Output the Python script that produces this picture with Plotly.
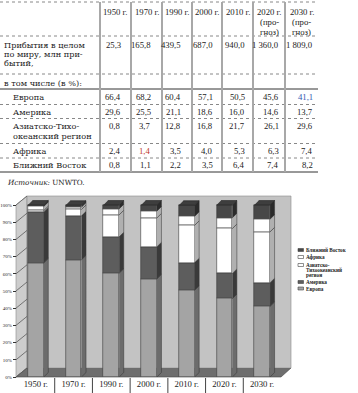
import plotly.graph_objects as go

W, H = 358, 393
SERIF = "Liberation Serif, DejaVu Serif, serif"
WIDE_SERIF = "DejaVu Serif, Liberation Serif, serif"

# ---------------- data ----------------
years = ["1950 г.", "1970 г.", "1990 г.", "2000 г.", "2010 г.", "2020 г.", "2030 г."]
header_labels = ["1950 г.", "1970 г.", "1990 г.", "2000 г.", "2010 г.",
                 "2020 г.<br>(про-<br>гноз)", "2030 г.<br>(про-<br>гноз)"]
arrivals = [25.3, 165.8, 439.5, 687.0, 940.0, 1360.0, 1809.0]
europe = [66.4, 68.2, 60.4, 57.1, 50.5, 45.6, 41.1]
america = [29.6, 25.5, 21.1, 18.6, 16.0, 14.6, 13.7]
asia_pacific = [0.8, 3.7, 12.8, 16.8, 21.7, 26.1, 29.6]
africa = [2.4, 1.4, 3.5, 4.0, 5.3, 6.3, 7.4]
middle_east = [0.8, 1.1, 2.2, 3.5, 6.4, 7.4, 8.2]

region_names = ["Европа", "Америка", "Азиатско-Тихоокеанский регион", "Африка", "Ближний Восток"]
table_row_labels = ["Европа", "Америка", "Азиатско-Тихо-<br>океанский регион", "Африка", "Ближний Восток"]
legend_labels = ["Ближний Восток", "Африка", "Азиатско-<br>Тихоокеанский<br>регион", "Америка", "Европа"]
arrivals_label = "Прибытия в целом<br>по миру, млн при-<br>бытий,"
subheader_label = "в том числе (в %):"
source_label = "<i>Источник:</i> UNWTO."
y_tick_values = [0, 10, 20, 30, 40, 50, 60, 70, 80, 90, 100]
y_tick_text = ["0%", "10%", "20%", "30%", "40%", "50%", "60%", "70%", "80%", "90%", "100%"]

series = [europe, america, asia_pacific, africa, middle_east]
highlight = {(0, 6): "#2f55b0", (3, 1): "#c0392b"}

# ---------------- styles ----------------
front_colors = ["#a4a4a4", "#5d5d5d", "#ffffff", "#ffffff", "#474747"]
side_colors = ["#6c6c6c", "#3a3a3a", "#b0b0b0", "#b0b0b0", "#2b2b2b"]
TEXT = "#222222"


def px(x):
    return x / W


def py(y):
    return 1 - y / H


def fmt(v):
    s = f"{v:,.1f}"
    return s.replace(",", "\u00a0").replace(".", ",")


fig = go.Figure()
ann = []
shapes = []


def add_text(text, x, y, anchor, size, lh, color=TEXT, family=SERIF):
    for k, line in enumerate(text.split("<br>")):
        ann.append(dict(x=px(x), y=py(y + k * lh), xref="paper", yref="paper", text=line,
                        showarrow=False, xanchor=anchor, yanchor="middle",
                        font=dict(size=size, color=color, family=family)))


# ---------------- table ----------------
col_edges = [100, 131, 162, 192, 222, 253, 285, 318]
val_right = [123, 153, 183, 215, 247, 281, 315]
row_y = [97, 111.5, 125.5, 151, 165]
FS = 8.7
LFS = 8.2
LH = 10

h_lines = [(2, "dot"), (36, "dot"), (74, "dot"), (89, "solid"), (104.5, "dot"),
           (118.5, "dot"), (143.5, "dot"), (158, "dot"), (172, "solid")]
for yy, st in h_lines:
    shapes.append(dict(type="line", xref="paper", yref="paper", x0=px(0), x1=px(col_edges[-1]),
                       y0=py(yy), y1=py(yy),
                       line=dict(color="#333" if st == "solid" else "#888", width=1, dash=st)))
for xx in col_edges[:-1]:
    shapes.append(dict(type="line", xref="paper", yref="paper", x0=px(xx), x1=px(xx),
                       y0=py(2), y1=py(172), line=dict(color="#a8a8a8", width=2)))

for j, lab in enumerate(header_labels):
    add_text(lab, (col_edges[j] + col_edges[j + 1]) / 2, 12, "center", FS, LH)

add_text(arrivals_label, 2, 45, "left", LFS, 9, family=WIDE_SERIF)
for j, v in enumerate(arrivals):
    add_text(fmt(v), val_right[j], 45, "right", FS, LH)
add_text(subheader_label, 2, 83, "left", LFS, LH, family=WIDE_SERIF)

for r, lab in enumerate(table_row_labels):
    add_text(lab, 11, row_y[r], "left", LFS, LH, family=WIDE_SERIF)
    for j, v in enumerate(series[r]):
        add_text(fmt(v), val_right[j], row_y[r], "right", FS, LH, highlight.get((r, j), TEXT))

add_text(source_label, 5, 182, "left", 7.2, LH, family=WIDE_SERIF)

# ---------------- chart geometry ----------------
FX0, FX1 = 17, 281          # front plane
FY0, FSC = 377, 1.72        # 0% position, px per %
DXP, DYP = 10, 9            # depth offset of back wall
Y2_MAX = 104
BX0, BX1 = FX0 + DXP, FX1 + DXP
BY0, BY100 = FY0 - DYP, FY0 - DYP - 100 * FSC

# side wall, floor, back wall
def path(pts):
    return "M " + " L ".join(f"{px(a):.5f},{py(b):.5f}" for a, b in pts) + " Z"

shapes.append(dict(type="path", xref="paper", yref="paper", layer="below",
                   path=path([(FX0 - 1, FY0 - 100 * FSC), (BX0, BY100), (BX0, BY0), (FX0 - 1, FY0)]),
                   fillcolor="#cdcdcd", line=dict(color="#8a8a8a", width=0.6)))
shapes.append(dict(type="path", xref="paper", yref="paper", layer="below",
                   path=path([(FX0 - 1, FY0), (FX1, FY0), (BX1, BY0), (BX0, BY0)]),
                   fillcolor="#6e6e6e", line=dict(color="#444", width=0.6)))
shapes.append(dict(type="rect", xref="paper", yref="paper", layer="below",
                   x0=px(BX0), x1=px(BX1), y0=py(BY0), y1=py(BY100),
                   fillcolor="#c3c3c3", line=dict(color="#8a8a8a", width=0.6)))
for v in y_tick_values:
    shapes.append(dict(type="line", xref="paper", yref="paper", layer="below",
                       x0=px(FX0 - 1), y0=py(FY0 - v * FSC), x1=px(BX0), y1=py(BY0 - v * FSC),
                       line=dict(color="#5a5a5a", width=0.8)))

# category separators under the chart
for i in range(len(years) - 1):
    shapes.append(dict(type="line", xref="x2", yref="paper", x0=i + 0.5, x1=i + 0.5,
                       y0=py(FY0 + 1), y1=py(H), line=dict(color="#444", width=1)))

# ---------------- bars ----------------
idx = list(range(len(years)))
BW = 0.42
DX, DY = 0.12, 2.6
base = [0.0] * len(years)
for k, vals in enumerate(series):
    fig.add_trace(go.Bar(x=idx, y=vals, base=base[:], width=BW, name=region_names[k],
                         marker=dict(color=front_colors[k], line=dict(color="#3a3a3a", width=0.6)),
                         xaxis="x2", yaxis="y2", showlegend=False))
    sx, sy = [], []
    for i in idx:
        b0, b1 = base[i], base[i] + vals[i]
        xr = i + BW / 2
        sx += [xr, xr + DX, xr + DX, xr, None]
        sy += [b0, b0 + DY, b1 + DY, b1, None]
    fig.add_trace(go.Scatter(x=sx, y=sy, mode="lines", fill="toself", fillcolor=side_colors[k],
                             line=dict(color="#333", width=0.5), xaxis="x2", yaxis="y2",
                             showlegend=False, hoverinfo="skip"))
    base = [base[i] + vals[i] for i in idx]

# top caps
cx, cy = [], []
for i in idx:
    top = base[i]
    cx += [i - BW / 2, i + BW / 2, i + BW / 2 + DX, i - BW / 2 + DX, None]
    cy += [top, top, top + DY, top + DY, None]
fig.add_trace(go.Scatter(x=cx, y=cy, mode="lines", fill="toself", fillcolor="#3e3e3e",
                         line=dict(color="#222", width=0.6), xaxis="x2", yaxis="y2",
                         showlegend=False, hoverinfo="skip"))

# ---------------- legend ----------------
leg_y = [250, 257, 265, 282, 288.5]
leg_colors = front_colors[::-1]
for k, lab in enumerate(legend_labels):
    yc = leg_y[k]
    shapes.append(dict(type="rect", xref="paper", yref="paper", x0=px(298), x1=px(303.5),
                       y0=py(yc - 1.5), y1=py(yc + 1.5), fillcolor=leg_colors[k],
                       line=dict(color="#444", width=0.6)))
    for m, line in enumerate(lab.split("<br>")):
        ann.append(dict(x=px(304), y=py(yc + m * 5), xref="paper", yref="paper",
                        text=f"<b>{line}</b>", showarrow=False, xanchor="left", yanchor="middle",
                        font=dict(size=5.2, color=TEXT, family=SERIF)))

fig.update_layout(
    template="none",
    width=W, height=H,
    margin=dict(l=0, r=0, t=0, b=0),
    paper_bgcolor="white", plot_bgcolor="rgba(0,0,0,0)",
    font=dict(family=SERIF, color=TEXT),
    barmode="overlay", bargap=0,
    showlegend=False,
    xaxis=dict(domain=[px(BX0), px(BX1)], range=[0, 1], showgrid=False, zeroline=False,
               showticklabels=False, ticks="", showline=False, anchor="y"),
    yaxis=dict(domain=[py(BY0), py(BY100)], range=[0, 100], tickvals=y_tick_values, showgrid=True,
               gridcolor="#5a5a5a", gridwidth=0.8, zeroline=False, showticklabels=False,
               ticks="", showline=False, anchor="x"),
    xaxis2=dict(domain=[px(FX0), px(FX1)], range=[-0.5, len(years) - 0.5], anchor="y2",
                tickvals=idx, ticktext=years, ticks="", showgrid=False, zeroline=False,
                showline=False, tickfont=dict(size=FS, family=SERIF, color=TEXT)),
    yaxis2=dict(domain=[py(FY0), py(FY0 - Y2_MAX * FSC)], range=[0, Y2_MAX], anchor="x2",
                tickvals=y_tick_values, ticktext=y_tick_text, ticks="outside", ticklen=3,
                tickcolor="#333", showgrid=False, zeroline=False, showline=False,
                tickfont=dict(size=5, family=SERIF, color=TEXT)),
    annotations=ann,
    shapes=shapes,
)

fig.write_html("out.html", config={"displayModeBar": False},
               post_script="document.body.style.margin='0';document.body.style.overflow='hidden';")
